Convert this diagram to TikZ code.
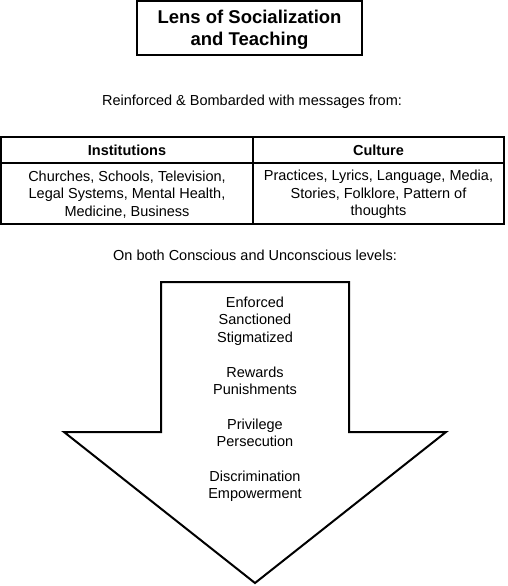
\documentclass[tikz,border=0pt]{standalone}
\usepackage{fontspec}
\setmainfont{Liberation Sans}
\begin{document}
\begin{tikzpicture}[x=1pt,y=-1pt,
  body/.style={font=\fontsize{14.5}{17.4}\selectfont, align=center, inner sep=0pt},
  headtext/.style={font=\bfseries\fontsize{14.5}{17.4}\selectfont, inner sep=0pt},
  titletext/.style={font=\bfseries\fontsize{18.5}{22}\selectfont, align=center, inner sep=0pt},
  frame/.style={draw=black, line width=1.5pt},
  bigarrow/.style={draw=black, line width=2pt, line join=miter, fill=white}]
\fill[white] (0,0) rectangle (507,586);
\useasboundingbox (0,0) rectangle (507,586);

% title box
\node[frame, minimum width=225pt, minimum height=54pt, inner sep=0pt] (titlebox) at (249.5,28) {};
\node[titletext] (title) at (249.5,30) {Lens of Socialization\\and Teaching};

% lead-in line
\node[body] (intro) at (252,101.5) {Reinforced \& Bombarded with messages from:};

% table of sources
\coordinate (tl) at (1,137);
\coordinate (br) at (504,224);
\coordinate (hl) at (1,163);
\coordinate (hr) at (504,163);
\coordinate (dt) at (253,137);
\coordinate (db) at (253,224);
\draw[frame] (tl) rectangle (br);
\draw[frame] (hl) -- (hr);
\draw[frame] (dt) -- (db);
\node[headtext] (insthead) at (127,150) {Institutions};
\node[headtext] (culthead) at (378.5,150) {Culture};
\node[body] (instbody) at (127,194.4) {Churches, Schools, Television,\\Legal Systems, Mental Health,\\Medicine, Business};
\node[body] (cultbody) at (378.5,194.4) {Practices, Lyrics, Language, Media,\\Stories, Folklore, Pattern of\\thoughts};

% levels line
\node[body] (levels) at (255,255) {On both Conscious and Unconscious levels:};

% downward block arrow
\draw[bigarrow] (161,282) -- (349,282) -- (349,432) -- (446,432) -- (255,583)
  -- (64,432) -- (161,432) -- cycle;
\node[body] (effects) at (255,399.5) {Enforced\\Sanctioned\\Stigmatized\\[17.4pt]Rewards\\Punishments\\[17.4pt]Privilege\\Persecution\\[17.4pt]Discrimination\\Empowerment};
\end{tikzpicture}
\end{document}
